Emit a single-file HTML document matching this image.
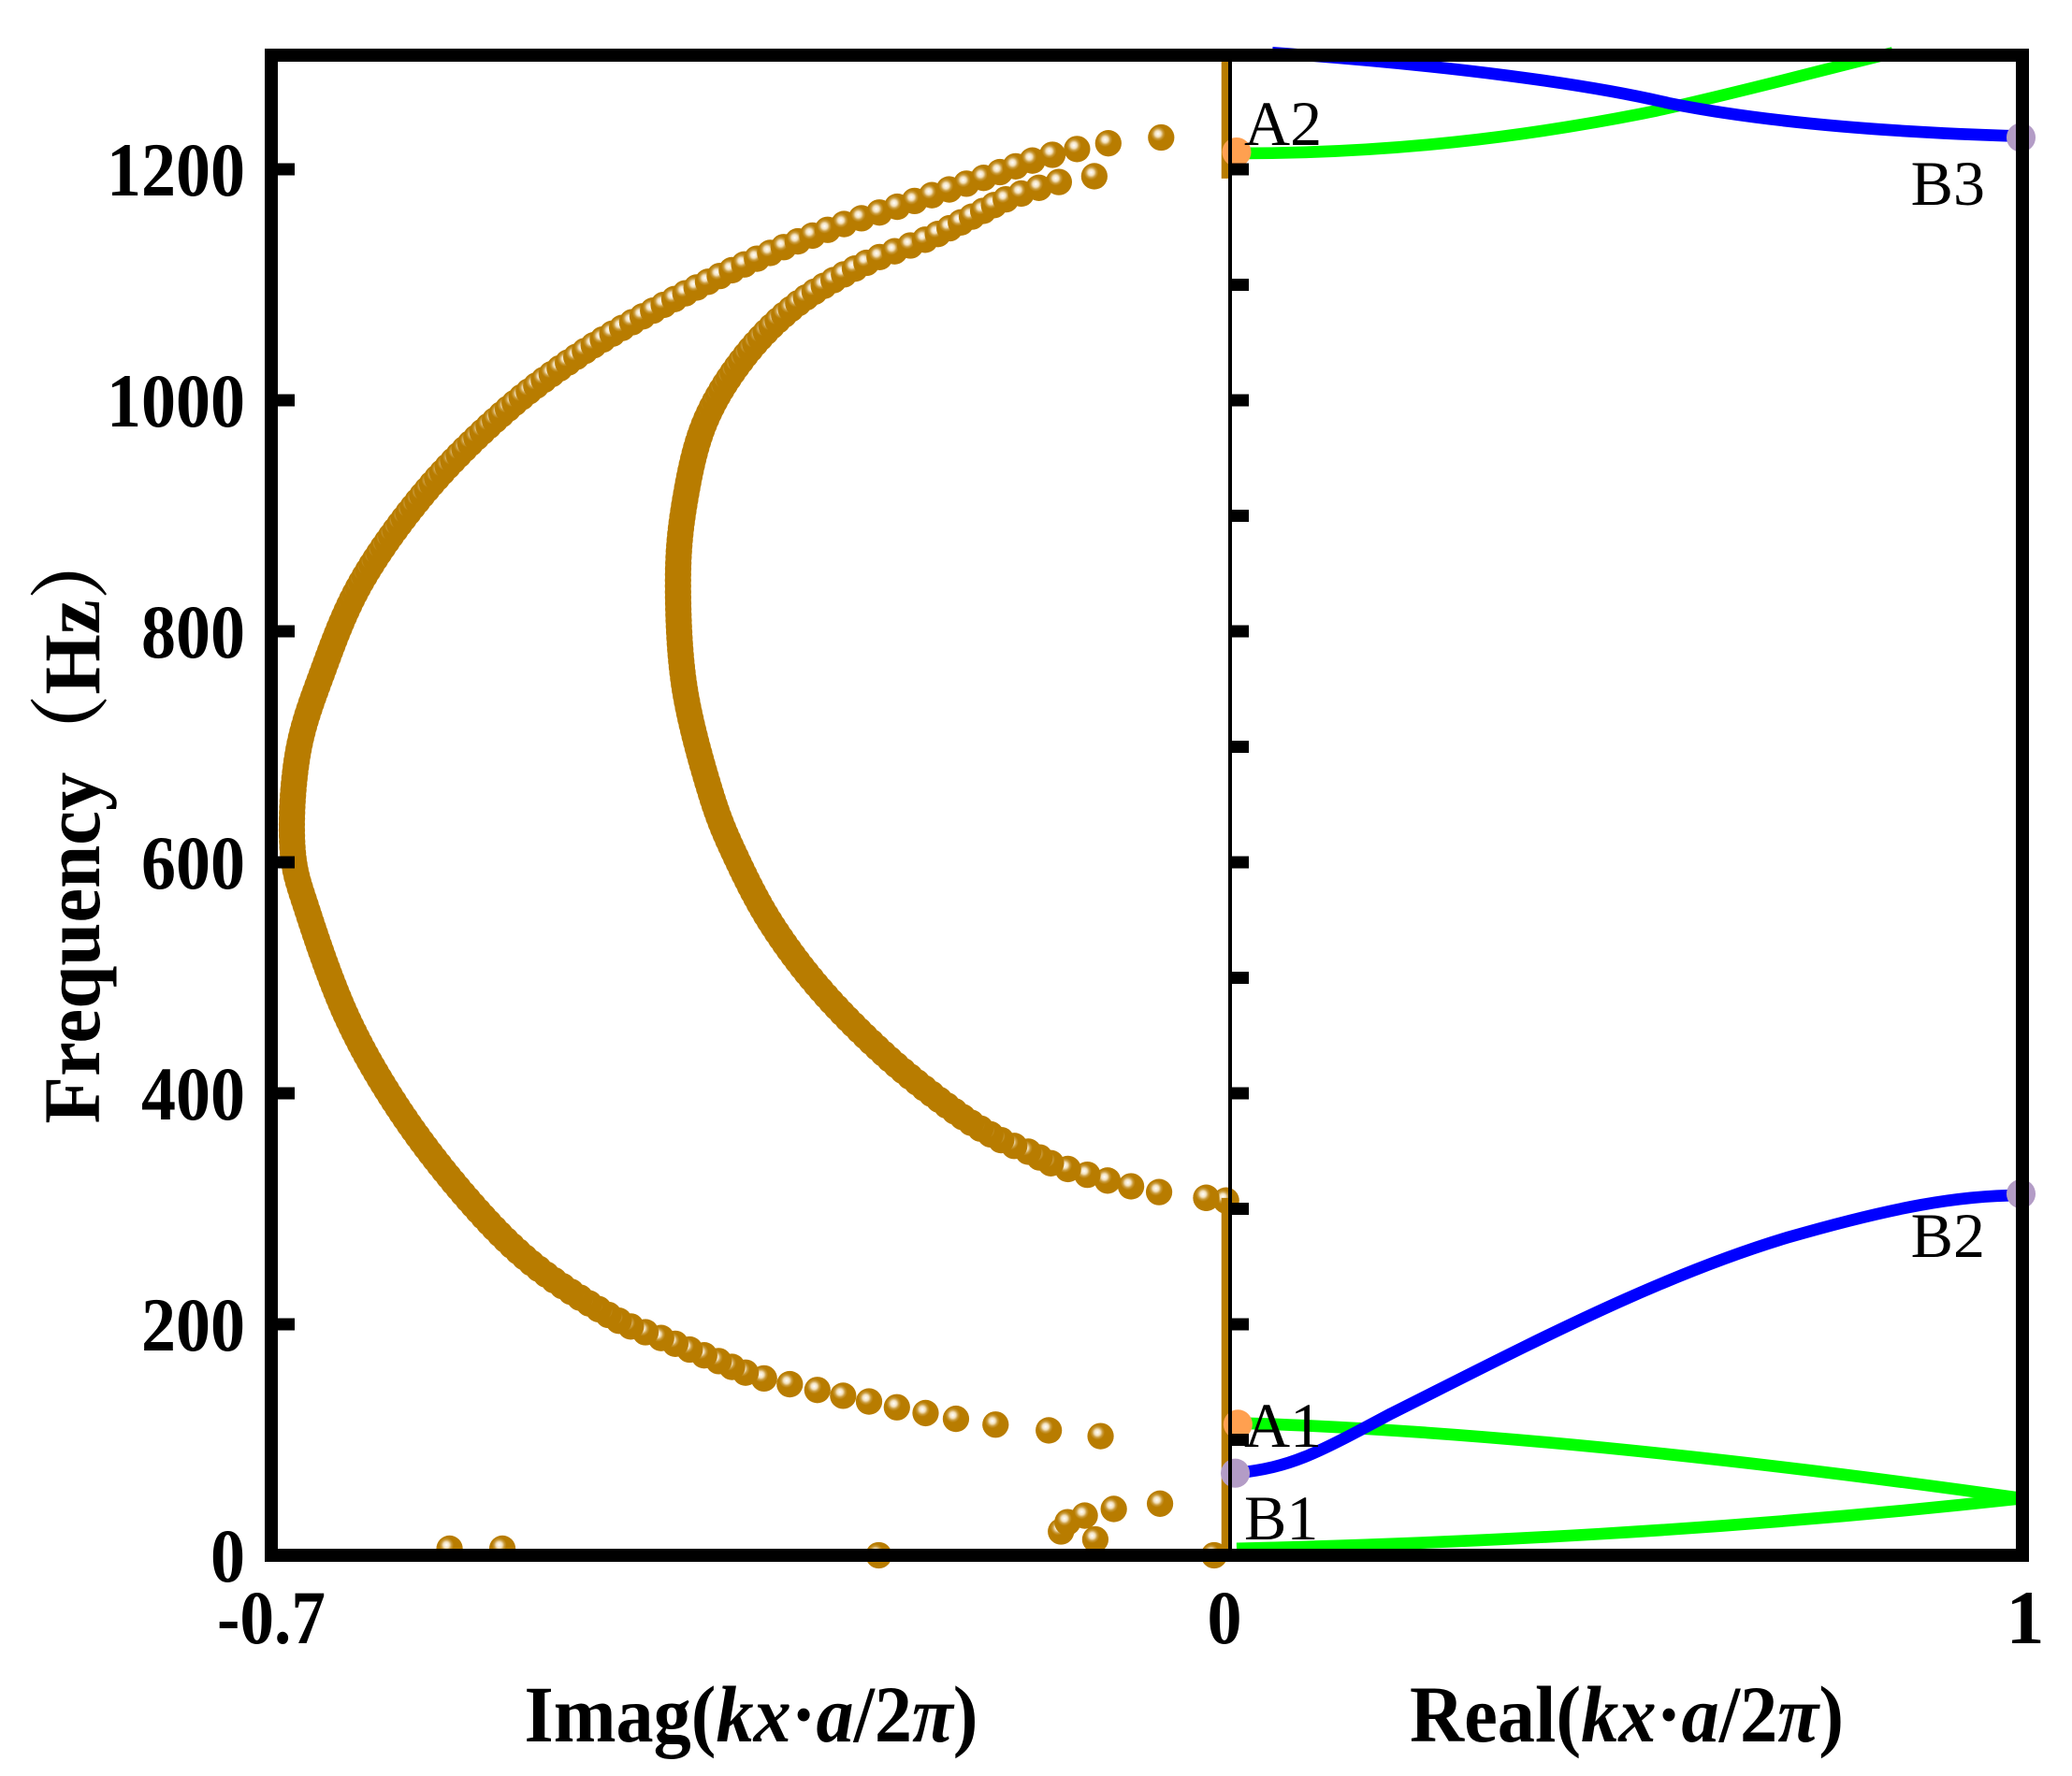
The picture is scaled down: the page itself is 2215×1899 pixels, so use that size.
<!DOCTYPE html>
<html><head><meta charset="utf-8"><style>
html,body{margin:0;padding:0;background:#fff;}
svg{display:block}
text{font-family:"Liberation Serif","Noto Serif CJK SC",serif;}
</style></head><body>
<svg id="s" width="2215" height="1899" viewBox="0 0 2215 1899" xmlns="http://www.w3.org/2000/svg">
<defs>
<radialGradient id="ball" cx="0.38" cy="0.36" r="0.62">
<stop offset="0" stop-color="#ffffff"/>
<stop offset="0.18" stop-color="#f3e2c0"/>
<stop offset="0.32" stop-color="#c99a3a"/>
<stop offset="0.45" stop-color="#b87c00"/>
<stop offset="1" stop-color="#b87c00"/>
</radialGradient>
</defs>
<g id="plot" transform="translate(290,1663) scale(1.4117,1.4155) translate(-202,-1175)">
<g id="dots"></g>
<line x1="925" y1="905" x2="925" y2="1175" stroke="#b87c00" stroke-width="7"/>
<line x1="925" y1="42" x2="925" y2="135" stroke="#b87c00" stroke-width="7"/>
<g fill="none" stroke-width="9" stroke-linejoin="round">
<path d="M933,1170 C1100,1166 1300,1157 1528,1132" stroke="#00ff00"/>
<path d="M933,1075 C1100,1080 1300,1100 1528,1132" stroke="#00ff00"/>
<path d="M933,1113 C975,1108 990,1100 1050,1068 C1150,1018 1250,965 1350,935 C1430,912 1480,903 1528,903" stroke="#0000ff"/>
<path d="M933,116 C1050,116 1150,104 1250,84 C1330,66 1380,52 1430,40" stroke="#00ff00"/>
<path d="M960,40 C1100,50 1200,64 1260,78 C1330,92 1420,100 1528,103" stroke="#0000ff"/>
</g>
<circle cx="933" cy="115" r="11" fill="#ffa050"/>
<circle cx="934" cy="1076" r="11" fill="#ffa050"/>
<circle cx="932" cy="1113" r="11" fill="#b39cc6"/>
<circle cx="1527" cy="902" r="11" fill="#b39cc6"/>
<circle cx="1527" cy="104" r="11" fill="#b39cc6"/>
</g>
<rect x="290" y="59" width="1872" height="1604" fill="none" stroke="#000" stroke-width="14"/>
<line x1="1315" y1="59" x2="1315" y2="1663" stroke="#000" stroke-width="4"/>
<g id="ticks" stroke="#000" stroke-width="13"></g>
<g font-weight="bold" font-size="82" fill="#000">
<text x="262" y="209" text-anchor="end" textLength="148" lengthAdjust="spacingAndGlyphs">1200</text>
<text x="262" y="456" text-anchor="end" textLength="148" lengthAdjust="spacingAndGlyphs">1000</text>
<text x="262" y="703" text-anchor="end" textLength="111" lengthAdjust="spacingAndGlyphs">800</text>
<text x="262" y="950" text-anchor="end" textLength="111" lengthAdjust="spacingAndGlyphs">600</text>
<text x="262" y="1197" text-anchor="end" textLength="111" lengthAdjust="spacingAndGlyphs">400</text>
<text x="262" y="1444" text-anchor="end" textLength="111" lengthAdjust="spacingAndGlyphs">200</text>
<text x="262" y="1691" text-anchor="end" textLength="37" lengthAdjust="spacingAndGlyphs">0</text>
<text x="290" y="1757" text-anchor="middle" textLength="116" lengthAdjust="spacingAndGlyphs">-0.7</text>
<text x="1309" y="1757" text-anchor="middle" textLength="37" lengthAdjust="spacingAndGlyphs">0</text>
<text x="2165" y="1757" text-anchor="middle">1</text>
<text x="803" y="1862" text-anchor="middle" font-size="86" textLength="485" lengthAdjust="spacingAndGlyphs">Imag(<tspan font-style="italic">kx</tspan>·<tspan font-style="italic">a</tspan>/2<tspan font-style="italic">π</tspan>)</text>
<text x="1739" y="1862" text-anchor="middle" font-size="86" textLength="464" lengthAdjust="spacingAndGlyphs">Real(<tspan font-style="italic">kx</tspan>·<tspan font-style="italic">a</tspan>/2<tspan font-style="italic">π</tspan>)</text>
<text transform="translate(106,880) rotate(-90)" text-anchor="middle" font-size="86" textLength="643" lengthAdjust="spacingAndGlyphs">Frequency（Hz）</text>
</g>
<g font-size="68" fill="#000">
<text x="1330" y="155">A2</text>
<text x="1330" y="1547">A1</text>
<text x="1330" y="1646">B1</text>
<text x="2122" y="219" text-anchor="end">B3</text>
<text x="2122" y="1344" text-anchor="end">B2</text>
</g>
</svg>
<script>
(function(){
var NS="http://www.w3.org/2000/svg";
var g=document.getElementById('dots');
function smooth(tab){
 var out=[];var n=tab.length;
 for(var i=0;i<n-1;i++){
  var p0=tab[Math.max(0,i-1)],p1=tab[i],p2=tab[i+1],p3=tab[Math.min(n-1,i+2)];
  for(var k=0;k<20;k++){
   var t=k/20,t2=t*t,t3=t2*t;
   var f=function(a,b,c,d){return 0.5*((2*b)+(-a+c)*t+(2*a-5*b+4*c-d)*t2+(-a+3*b-3*c+d)*t3);};
   out.push([f(p0[0],p1[0],p2[0],p3[0]),f(p0[1],p1[1],p2[1],p3[1])]);
  }
 }
 out.push(tab[n-1]);return out;
}
function interp(tab,y){
 for(var i=0;i<tab.length-1;i++){
  var a=tab[i],b=tab[i+1];
  if((y<=a[0]&&y>=b[0])||(y>=a[0]&&y<=b[0])){
   if(b[0]===a[0])return a[1];
   var t=(y-a[0])/(b[0]-a[0]);return a[1]+t*(b[1]-a[1]);
  }
 }
 return null;
}
var outer=[[1085,830],[1080,785],[1075,740],[1070,710],[1065,685],[1060,660],[1050,615],[1040,570],[1028,540],[1012,500],[995,460],[955,400],[905,350],[840,300],[770,260],[690,230],[640,218],[570,222],[510,240],[440,270],[370,320],[310,380],[265,440],[230,500],[200,560],[175,620],[155,680],[135,740],[118,790],[107,845],[102,905]];
var inner=[[905,910],[900,870],[895,848],[890,828],[885,812],[880,795],[870,775],[860,752],[840,720],[800,670],[750,620],[700,582],[650,555],[600,535],[520,515],[440,510],[380,515],[320,530],[270,560],[230,600],[200,650],[180,700],[160,740],[150,760],[140,790],[135,812],[130,855]];
var pts=[];
var step=4.36;
function run(tab){
 var y0=tab[0][0],y1=tab[tab.length-1][0];
 var s=smooth(tab);
 for(var y=y0;y>=y1-0.01;y-=step){var x=interp(s,y);if(x!==null)pts.push([x,y]);}
}
run(outer);run(inner);
var extra=[[337,1170],[377,1170],[662,1175],[800,1157],[805,1150],[818,1145],[826,1163],[840,1140],[875,1136],[916,1175],[925,907],[910,905]];
pts=pts.concat(extra);
var r=10;
pts.forEach(function(p){
 var c=document.createElementNS(NS,'circle');
 c.setAttribute('cx',p[0]);c.setAttribute('cy',p[1]);c.setAttribute('r',r);
 c.setAttribute('fill','url(#ball)');g.appendChild(c);
});
var t=document.getElementById('ticks');
function ln(x1,y1,x2,y2){var l=document.createElementNS(NS,'line');l.setAttribute('x1',x1);l.setAttribute('y1',y1);l.setAttribute('x2',x2);l.setAttribute('y2',y2);t.appendChild(l);}
for(var f=0;f<=1200;f+=200){var y=1663-f*1.235;ln(297,y,315,y);}
for(var f=100;f<=1200;f+=100){var y=1663-f*1.235;ln(1315,y,1335,y);}
})();
</script>
</body></html>
